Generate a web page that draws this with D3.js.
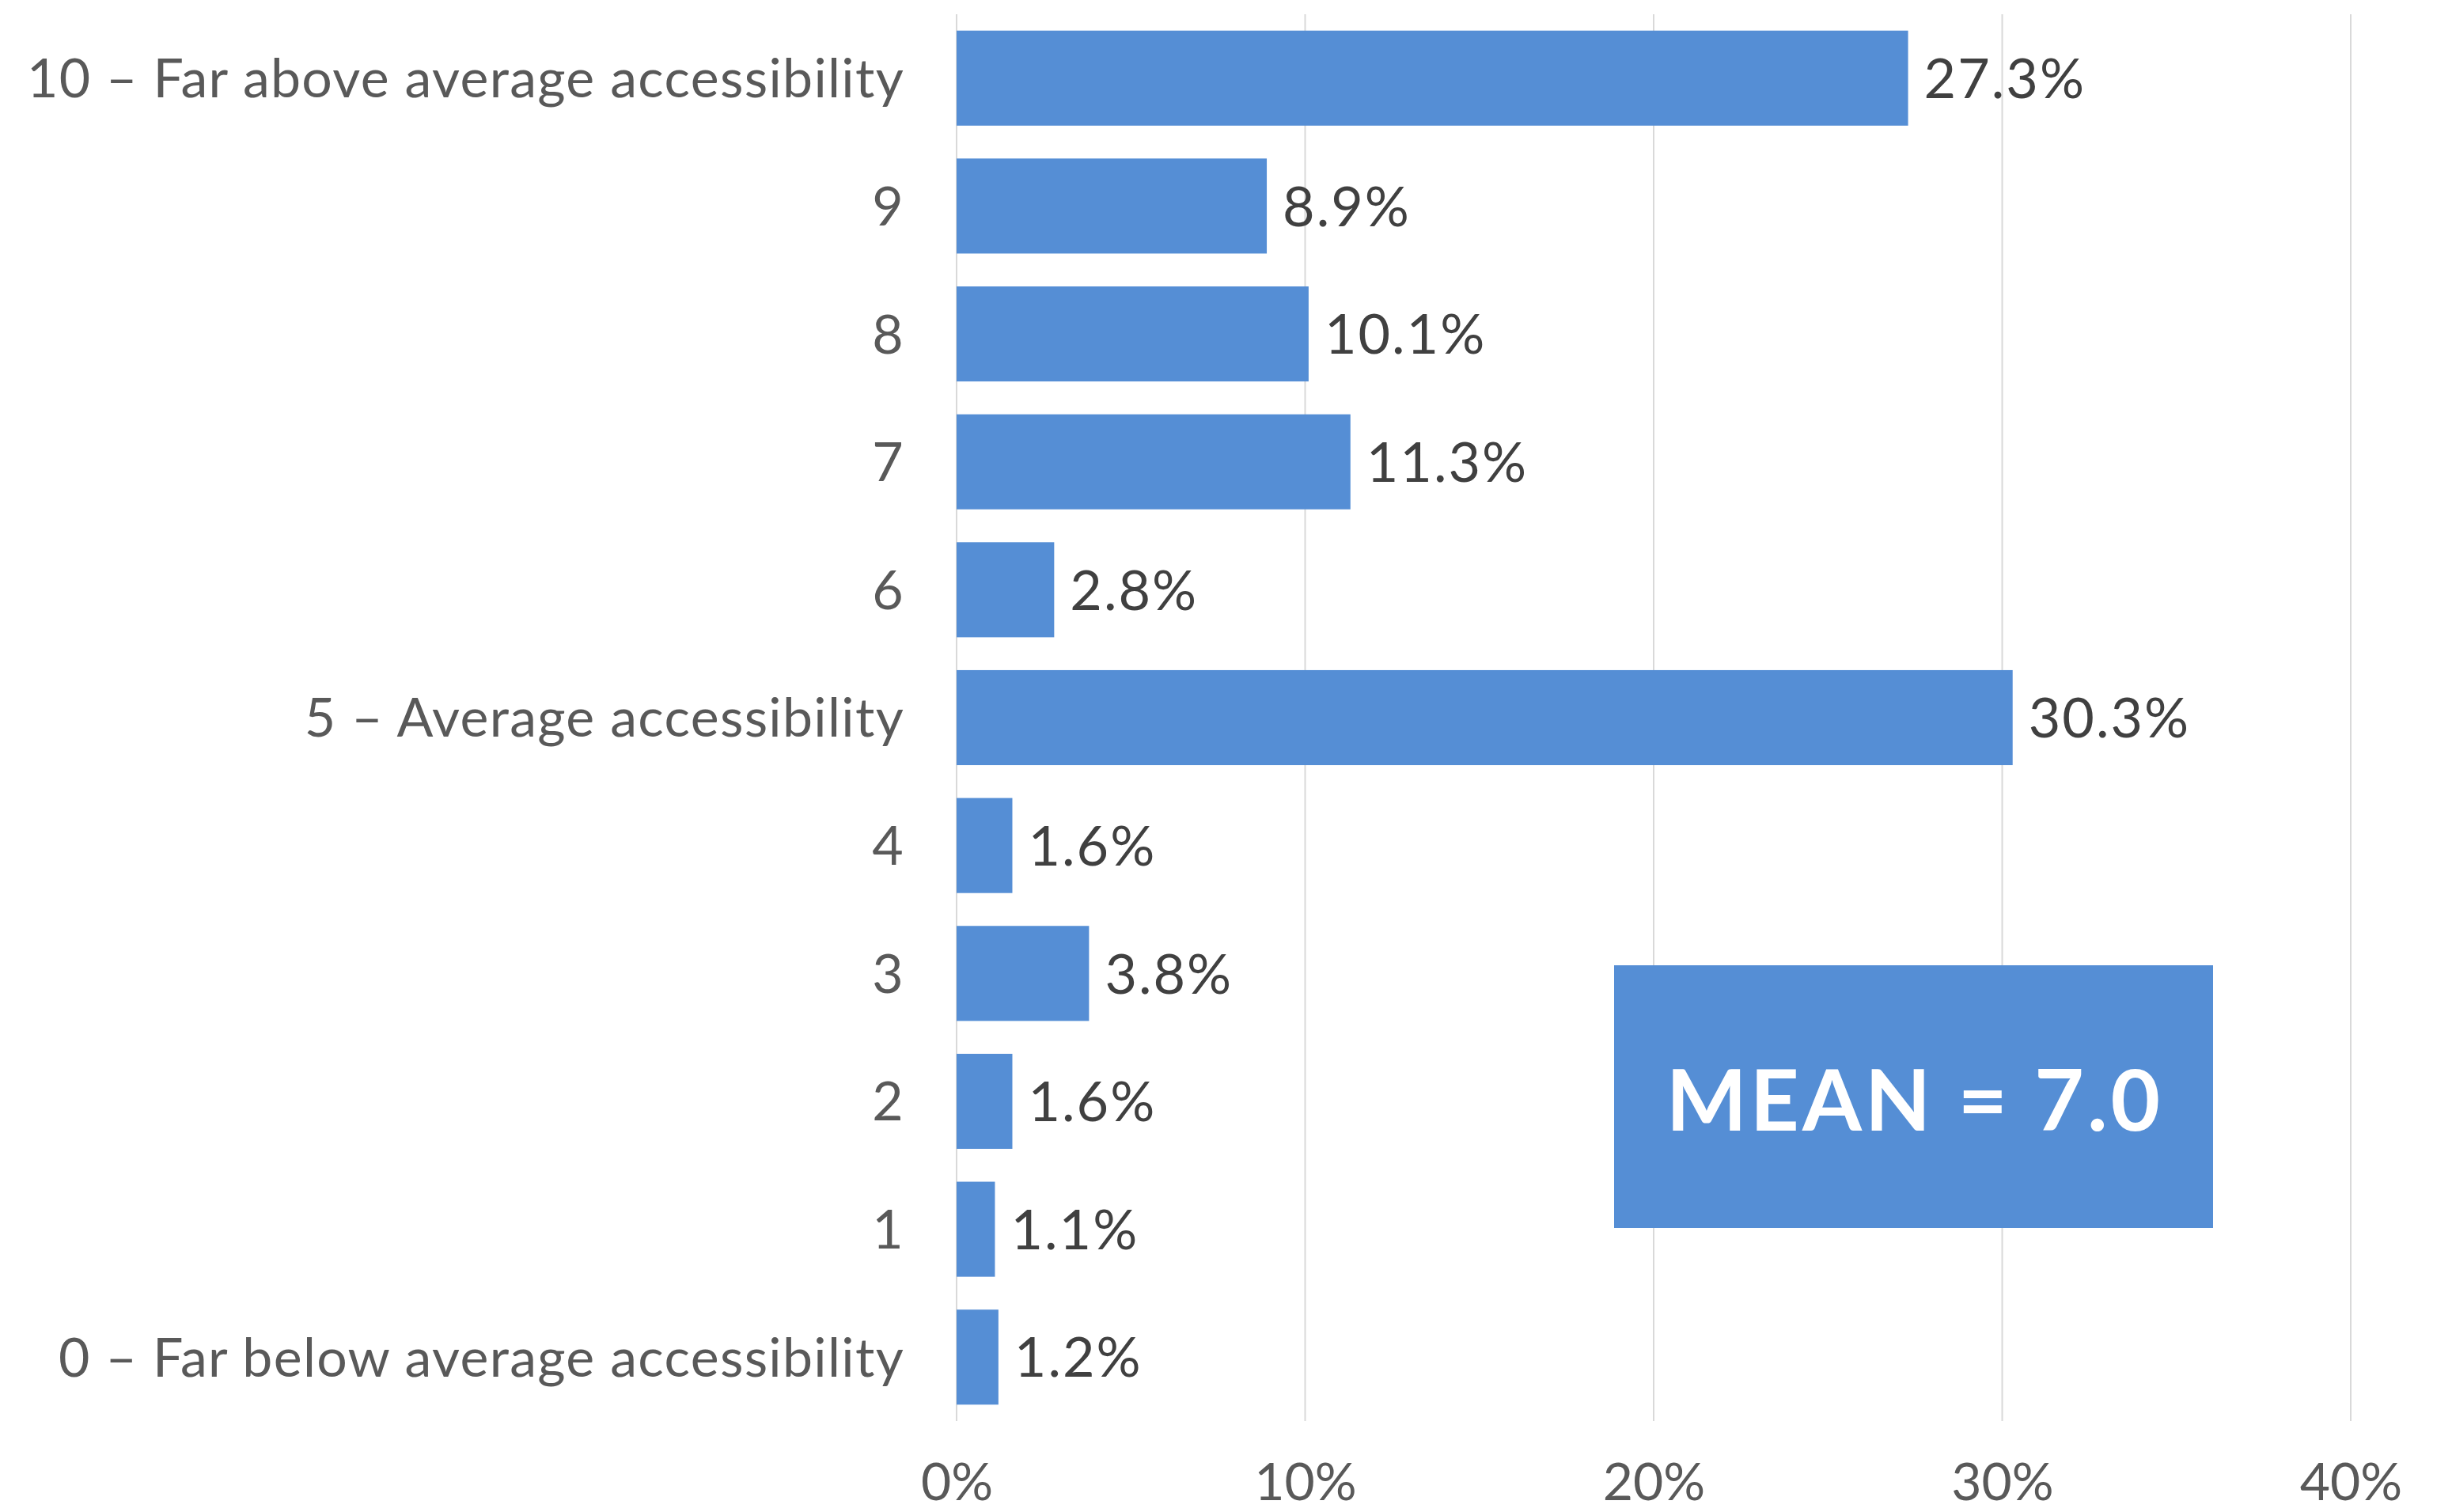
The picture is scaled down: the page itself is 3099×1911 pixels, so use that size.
<!DOCTYPE html>
<html><head><meta charset="utf-8">
<script src="https://cdn.jsdelivr.net/npm/d3@7"></script>
<style>html,body{margin:0;padding:0;background:#fff;}</style>
</head><body>
<script>
const categories = ["10 – Far above average accessibility","9","8","7","6","5 – Average accessibility","4","3","2","1","0 – Far below average accessibility"];
const values = [27.3, 8.9, 10.1, 11.3, 2.8, 30.3, 1.6, 3.8, 1.6, 1.1, 1.2];
const tickValues = [0, 10, 20, 30, 40];
const meanLabel = "MEAN = 7.0";

const W = 3099, H = 1911;
const FONT = "Lato, 'Open Sans', sans-serif";
const svg = d3.select("body").append("svg").attr("width", W).attr("height", H);

const x = d3.scaleLinear().domain([0, 40]).range([1209, 2971]);
const y = d3.scaleBand().domain(categories).range([18, 1796]).paddingInner(0.257).paddingOuter(0.128);

// gridlines
svg.append("g").selectAll("line").data(tickValues).join("line")
  .attr("x1", d => x(d)).attr("x2", d => x(d))
  .attr("y1", 18).attr("y2", 1796)
  .attr("stroke", "#d9d9d9").attr("stroke-width", 2);

// bars
svg.append("g").selectAll("rect").data(values).join("rect")
  .attr("x", x(0)).attr("y", (d, i) => y(categories[i]))
  .attr("width", d => x(d) - x(0)).attr("height", y.bandwidth())
  .attr("fill", "#558ED5");

// value labels
svg.append("g").selectAll("text").data(values).join("text")
  .attr("x", d => x(d) + 20).attr("y", (d, i) => y(categories[i]) + y.bandwidth() / 2)
  .attr("dy", "0.36em")
  .attr("font-family", FONT).attr("font-size", 70).attr("letter-spacing", 2).attr("fill", "#404040")
  .text(d => d.toFixed(1) + "%");

// category labels
const yAxis = d3.axisLeft(y).tickSize(0).tickPadding(66);
const gy = svg.append("g").attr("transform", `translate(${x(0)},0)`).call(yAxis);
gy.select(".domain").remove();
gy.selectAll("text").attr("font-family", FONT).attr("font-size", 68).attr("letter-spacing", 1.3)
  .attr("fill", "#595959").attr("dy", "0.36em");

// x axis
const xAxis = d3.axisBottom(x).tickValues(tickValues).tickSize(0).tickPadding(0).tickFormat(d => d + "%");
const gx = svg.append("g").attr("transform", `translate(0,1872)`).call(xAxis);
gx.select(".domain").remove();
gx.selectAll("text").attr("font-family", FONT).attr("font-size", 66).attr("fill", "#595959").attr("dy", "0.36em");

// mean box
svg.append("rect").attr("x", 2040).attr("y", 1220).attr("width", 757).attr("height", 332).attr("fill", "#558ED5");
svg.append("text").attr("x", 2420).attr("y", 1390).attr("dy", "0.36em").attr("text-anchor", "middle")
  .attr("font-family", FONT).attr("font-weight", "bold").attr("font-size", 108).attr("letter-spacing", 4).attr("fill", "#fff")
  .text(meanLabel);
</script>
</body></html>
